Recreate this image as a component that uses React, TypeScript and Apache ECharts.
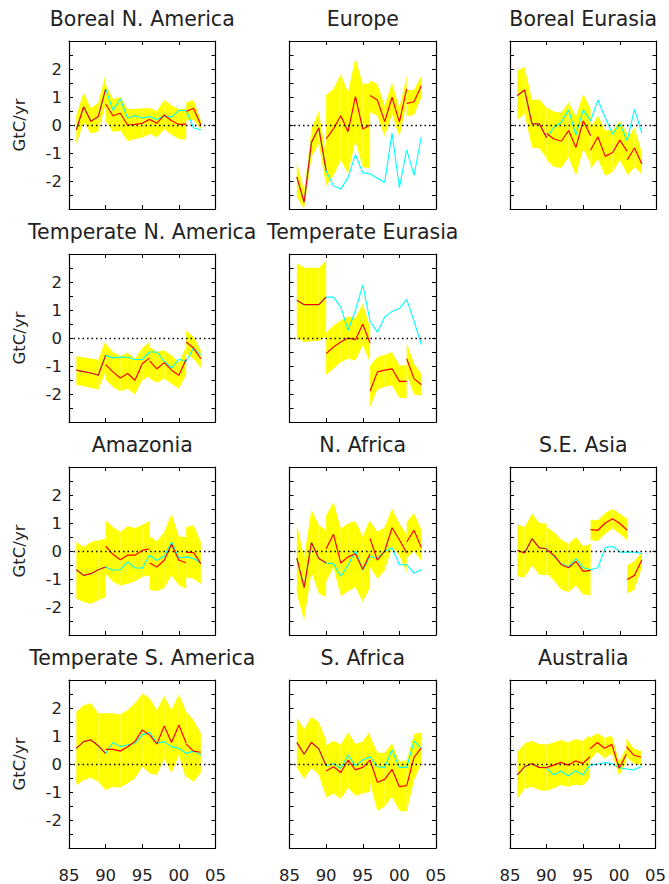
import React, { useEffect, useRef } from "react";
import * as echarts from "echarts";

// ---------- data ----------
const SEG_YEARS: number[][] = [
  [1986, 1987, 1988, 1989, 1990],
  [1990, 1991, 1992, 1993, 1994, 1995, 1996],
  [1996, 1997, 1998, 1999, 2000, 2001],
  [2001, 2002, 2003],
];
const CYAN_YEARS = [1990, 1991, 1992, 1993, 1994, 1995, 1996, 1997, 1998, 1999, 2000, 2001, 2002, 2003];
const X_TICK_LABELS = ["85", "90", "95", "00", "05"];
const Y_TICK_LABELS = [-2, -1, 0, 1, 2];

// Boreal N. America
const bnaRed = [[-0.17, 0.65, 0.13, 0.3, 1.28], [0.75, 0.33, 0.42, 0.0, 0.02, 0.06, 0.2], [0.2, 0.06, 0.36, 0.15, 0.02, 0.03], [0.48, 0.6, 0.0]];
const bnaHi = [[0.35, 1.15, 0.6, 0.8, 1.8], [1.45, 0.93, 1.0, 0.57, 0.57, 0.6, 0.6], [0.6, 0.5, 0.9, 0.7, 0.57, 0.57], [0.8, 0.9, 0.15]];
const bnaLo = [[-0.68, 0.1, -0.3, -0.23, 0.75], [0.15, -0.26, -0.2, -0.58, -0.5, -0.45, -0.33], [-0.3, -0.45, -0.15, -0.35, -0.5, -0.53], [0.15, 0.2, -0.15]];
const bnaCyan = [1.28, 0.53, 0.93, 0.25, 0.33, 0.25, 0.3, 0.2, 0.33, 0.28, 0.52, 0.52, -0.1, -0.17];

// Europe
const euRed = [[-1.85, -2.76, -0.62, -0.1, -1.63], [-0.5, -0.14, 0.33, -0.24, 1.01, -0.14, 0.0], [1.05, 0.89, 0.12, 0.99, 0.1, 1.29], [0.77, 0.83, 1.4]];
const euHi = [[-1.33, -2.35, -0.14, 0.51, -1.1], [1.07, 1.29, 1.82, 1.17, 2.39, 1.46, 1.49], [1.58, 1.46, 0.69, 1.52, 0.61, 1.76], [1.25, 1.25, 1.76]];
const euLo = [[-2.58, -3.0, -1.15, -0.68, -2.17], [-2.17, -1.81, -1.25, -1.73, -0.56, -1.51, -1.54], [0.45, 0.33, -0.42, 0.39, -0.42, 0.8], [0.3, 0.37, 0.99]];
const euCyan = [-1.63, -2.17, -2.29, -1.87, -1.06, -1.7, -1.75, -1.9, -2.05, -0.29, -2.24, -0.89, -1.8, -0.42];

// Boreal Eurasia
const beuRed = [[1.05, 1.25, 0.04, 0.04, -0.45], [-0.3, -0.5, -0.58, -0.2, -0.8, 0.15, -0.38], [-0.89, -0.42, -1.12, -0.98, -0.54, -0.94], [-1.25, -0.82, -1.39]];
const beuHi = [[1.94, 2.08, 0.89, 0.92, 0.6], [0.63, 0.48, 0.43, 0.81, 0.3, 1.11, 0.57], [-0.08, 0.33, -0.2, -0.2, 0.15, -0.3], [-0.5, -0.08, -0.98]];
const beuLo = [[0.18, 0.39, -0.8, -0.83, -1.2], [-1.25, -1.49, -1.54, -1.15, -1.81, -0.86, -1.39], [-1.57, -1.21, -1.81, -1.69, -1.25, -1.75], [-1.81, -1.51, -1.75]];
const beuCyan = [-0.45, -0.08, 0.1, 0.54, -0.36, 0.54, 0.15, 0.89, 0.27, -0.32, 0.04, -0.56, 0.57, -0.3];

// Temperate N. America
const tnaRed = [[-1.15, -1.2, -1.25, -1.33, -0.62], [-0.95, -1.21, -1.43, -1.27, -1.51, -0.92, -0.71], [-0.82, -1.1, -0.88, -1.15, -1.33, -0.76], [-0.14, -0.36, -0.74]];
const tnaHi = [[-0.65, -0.7, -0.73, -0.78, -0.08], [-0.2, -0.5, -0.64, -0.52, -0.74, -0.36, -0.14], [-0.32, -0.5, -0.44, -0.62, -0.86, -0.3], [0.27, 0.04, -0.44]];
const tnaLo = [[-1.68, -1.72, -1.78, -1.85, -1.2], [-1.49, -1.75, -1.9, -1.81, -2.02, -1.51, -1.36], [-1.45, -1.6, -1.45, -1.63, -1.81, -1.3], [-0.56, -0.74, -1.06]];
const tnaCyan = [-0.62, -0.71, -0.68, -0.69, -0.77, -0.77, -0.5, -0.5, -0.83, -1.07, -0.76, -0.83, -0.36, -0.6];

// Temperate Eurasia
const teuRed = [[1.35, 1.19, 1.19, 1.19, 1.46], [-0.56, -0.32, -0.14, 0.0, -0.06, 0.49, -0.18], [-1.9, -1.21, -1.15, -1.1, -1.55, -1.55], [-0.74, -1.45, -1.67]];
const teuHi = [[2.68, 2.51, 2.51, 2.51, 2.75], [0.19, 0.45, 0.63, 0.77, 0.71, 1.23, 0.39], [-0.98, -0.68, -0.6, -0.5, -0.98, -0.98], [-0.17, -0.92, -1.27]];
const teuLo = [[0.0, -0.14, -0.12, -0.1, 0.05], [-1.31, -1.1, -0.86, -0.74, -0.8, -0.26, -0.86], [-2.46, -1.83, -1.75, -1.69, -2.14, -2.14], [-1.31, -2.02, -2.05]];
const teuCyan = [1.46, 1.46, 1.11, 0.27, 0.99, 1.9, 0.6, 0.21, 0.75, 0.95, 1.05, 1.38, 0.6, -0.24];

// Amazonia
const amzRed = [[-0.67, -0.87, -0.81, -0.67, -0.57], [0.17, -0.12, -0.31, -0.15, -0.15, 0.02, 0.08], [-0.43, -0.57, -0.33, 0.24, -0.33, -0.42], [-0.04, -0.06, -0.45]];
const amzHi = [[0.32, 0.14, 0.32, 0.38, 0.44], [1.1, 0.86, 0.68, 0.88, 0.82, 0.94, 1.07], [0.52, 0.35, 0.68, 1.33, 0.52, 0.5], [0.86, 0.92, 0.32]];
const amzLo = [[-1.7, -1.82, -1.88, -1.76, -1.64], [-0.81, -1.1, -1.23, -1.17, -1.08, -0.93, -0.87], [-1.38, -1.43, -1.32, -0.87, -1.23, -1.35], [-0.95, -0.99, -1.17]];
const amzCyan = [-0.57, -0.69, -0.67, -0.39, -0.6, -0.61, -0.15, -0.33, -0.19, 0.32, -0.25, -0.21, -0.27, -0.43];

// N. Africa
const nafRed = [[-0.25, -1.31, 0.3, -0.27, -0.43], [0.08, 0.6, -0.43, -0.21, -0.1, -0.65, -0.1], [0.44, -0.33, 0.0, 0.83, 0.4, -0.07], [0.32, 0.74, 0.12]];
const nafHi = [[0.95, -0.21, 1.49, 0.92, 0.75], [1.27, 1.75, 0.8, 0.98, 1.07, 0.52, 1.15], [1.07, 0.68, 0.86, 1.51, 0.98, 0.6], [1.04, 1.36, 0.76]];
const nafLo = [[-1.52, -2.48, -0.75, -1.52, -1.64], [-1.1, -0.57, -1.62, -1.44, -1.29, -1.82, -1.29], [-0.57, -0.99, -0.69, 0.14, -0.15, -0.75], [-0.27, 0.0, -0.36]];
const nafCyan = [-0.43, -0.45, -0.9, -0.51, 0.02, -0.69, -0.19, -0.27, 0.0, 0.12, -0.49, -0.49, -0.79, -0.67];

// S.E. Asia
const seaRed = [[0.02, -0.07, 0.44, 0.11, 0.08], [0.05, -0.15, -0.49, -0.6, -0.37, -0.73, -0.69], [0.76, 0.74, 1.0, 1.15, 0.98, 0.74], [-1.02, -0.87, -0.31]];
const seaHi = [[0.94, 0.86, 1.33, 1.0, 0.98], [0.86, 0.68, 0.4, 0.26, 0.5, 0.17, 0.26], [1.12, 1.1, 1.36, 1.51, 1.33, 1.15], [-0.51, -0.36, -0.04]];
const seaLo = [[-0.9, -0.95, -0.51, -0.85, -0.87], [-0.79, -1.05, -1.38, -1.46, -1.23, -1.55, -1.58], [0.38, 0.36, 0.62, 0.8, 0.62, 0.38], [-1.52, -1.38, -0.57]];
const seaCyan = [0.08, -0.19, -0.45, -0.57, -0.27, -0.6, -0.67, -0.6, 0.12, 0.17, -0.04, -0.04, -0.04, -0.1];

// Temperate S. America
const tsaRed = [[0.56, 0.8, 0.86, 0.65, 0.38], [0.52, 0.52, 0.46, 0.62, 0.8, 1.21, 1.04], [1.04, 0.71, 1.36, 0.77, 1.39, 0.74], [0.71, 0.46, 0.42]];
const tsaHi = [[1.87, 2.1, 2.17, 1.81, 1.81], [1.81, 1.81, 1.77, 1.93, 2.17, 2.52, 2.35], [2.35, 1.93, 2.44, 1.93, 2.49, 1.87], [1.87, 1.57, 1.1]];
const tsaLo = [[-0.75, -0.57, -0.49, -0.63, -0.93], [-0.93, -0.81, -0.85, -0.69, -0.51, -0.1, -0.33], [-0.33, -0.39, 0.2, -0.33, 0.32, -0.57], [-0.45, -0.63, -0.3]];
const tsaCyan = [0.38, 0.77, 0.62, 0.68, 0.74, 1.04, 1.13, 0.74, 0.8, 0.62, 0.56, 0.38, 0.46, 0.32];

// S. Africa
const safRed = [[0.77, 0.35, 0.77, 0.54, -0.06], [-0.25, -0.1, -0.3, 0.14, -0.21, -0.12, 0.14], [0.14, -0.65, -0.55, -0.19, -0.81, -0.77], [-0.77, 0.24, 0.58]];
const safHi = [[1.65, 1.25, 1.69, 1.49, 0.85], [0.68, 0.82, 0.7, 1.13, 0.71, 0.8, 1.18], [1.0, 0.4, 0.4, 0.74, 0.08, 0.14], [0.14, 1.06, 1.13]];
const safLo = [[-0.13, -0.54, -0.13, -0.39, -1.17], [-1.2, -1.05, -1.25, -0.85, -1.13, -1.05, -0.99], [-0.7, -1.68, -1.52, -1.17, -1.67, -1.7], [-1.7, -0.57, 0.02]];
const safCyan = [-0.06, 0.02, -0.15, 0.32, -0.06, 0.14, 0.26, -0.1, -0.12, 0.5, -0.12, -0.12, 0.82, 0.56];

// Australia
const ausRed = [[-0.39, -0.1, 0.02, -0.12, -0.13], [-0.13, -0.04, 0.06, -0.04, 0.11, 0.02, 0.26], [0.54, 0.77, 0.56, 0.7, -0.15, 0.35], [0.62, 0.32, 0.24]];
const ausHi = [[0.42, 0.74, 0.82, 0.71, 0.7], [0.7, 0.77, 0.86, 0.77, 0.89, 0.82, 1.04], [0.94, 1.1, 0.94, 1.01, 0.08, 0.6], [0.92, 0.56, 0.46]];
const ausLo = [[-1.23, -0.89, -0.81, -0.93, -0.96], [-0.96, -0.87, -0.75, -0.81, -0.73, -0.77, -0.51], [0.14, 0.44, 0.2, 0.38, -0.42, 0.08], [0.26, 0.02, -0.04]];
const ausCyan = [-0.13, -0.39, -0.25, -0.43, -0.24, -0.39, -0.04, -0.01, 0.05, 0.02, -0.13, -0.18, -0.21, -0.1];

const PANELS = [
  { title: "Boreal N. America", row: 0, col: 0, red: bnaRed, hi: bnaHi, lo: bnaLo, cyan: bnaCyan },
  { title: "Europe", row: 0, col: 1, red: euRed, hi: euHi, lo: euLo, cyan: euCyan },
  { title: "Boreal Eurasia", row: 0, col: 2, red: beuRed, hi: beuHi, lo: beuLo, cyan: beuCyan },
  { title: "Temperate N. America", row: 1, col: 0, red: tnaRed, hi: tnaHi, lo: tnaLo, cyan: tnaCyan },
  { title: "Temperate Eurasia", row: 1, col: 1, red: teuRed, hi: teuHi, lo: teuLo, cyan: teuCyan },
  { title: "Amazonia", row: 2, col: 0, red: amzRed, hi: amzHi, lo: amzLo, cyan: amzCyan },
  { title: "N. Africa", row: 2, col: 1, red: nafRed, hi: nafHi, lo: nafLo, cyan: nafCyan },
  { title: "S.E. Asia", row: 2, col: 2, red: seaRed, hi: seaHi, lo: seaLo, cyan: seaCyan },
  { title: "Temperate S. America", row: 3, col: 0, red: tsaRed, hi: tsaHi, lo: tsaLo, cyan: tsaCyan },
  { title: "S. Africa", row: 3, col: 1, red: safRed, hi: safHi, lo: safLo, cyan: safCyan },
  { title: "Australia", row: 3, col: 2, red: ausRed, hi: ausHi, lo: ausLo, cyan: ausCyan },
];

// ---------- layout & style ----------
const COL_LEFT = [69, 289.5, 510];
const ROW_TOP = [41, 254, 467, 680];
const PLOT_W = 146.5;
const PLOT_H = 168;
const FONT = "DejaVu Sans";
const TEXT_COLOR = "#222";

function buildOption() {
  const grids: any[] = [];
  const xAxes: any[] = [];
  const yAxes: any[] = [];
  const series: any[] = [];
  const graphics: any[] = [];

  const axisLine = { show: true, onZero: false, lineStyle: { color: "#000", width: 1.2 } };
  const axisTick = { show: true, inside: true, length: 4, lineStyle: { color: "#000", width: 1 } };

  PANELS.forEach((p, k) => {
    const left = COL_LEFT[p.col];
    const top = ROW_TOP[p.row];
    const bottomRow = p.row === 3;
    const firstCol = p.col === 0;
    grids.push({ left, top, width: PLOT_W, height: PLOT_H, containLabel: false });

    const xBase = {
      gridIndex: k, type: "value", min: 1985, max: 2005, interval: 5,
      axisLine, axisTick, splitLine: { show: false },
    };
    xAxes.push({
      ...xBase, position: "bottom",
      axisLabel: {
        show: bottomRow, margin: 19, fontSize: 16.5, fontFamily: FONT, color: TEXT_COLOR,
        formatter: (v: number) => X_TICK_LABELS[Math.round((v - 1985) / 5)] ?? "",
      },
    });
    xAxes.push({ ...xBase, position: "top", axisLabel: { show: false } });

    const yBase = {
      gridIndex: k, type: "value", min: -3, max: 3, interval: 0.5,
      axisLine, axisTick, splitLine: { show: false },
    };
    yAxes.push({
      ...yBase, position: "left",
      axisLabel: {
        show: firstCol, margin: 7, fontSize: 16.5, fontFamily: FONT, color: TEXT_COLOR,
        formatter: (v: number) => (Y_TICK_LABELS.indexOf(v) >= 0 ? String(v) : ""),
      },
      name: firstCol ? "GtC/yr" : "",
      nameLocation: "middle", nameGap: 41,
      nameTextStyle: { fontSize: 16.5, fontFamily: FONT, color: TEXT_COLOR },
    });
    yAxes.push({ ...yBase, position: "right", axisLabel: { show: false } });

    const xi = 2 * k;
    const yi = 2 * k;

    // uncertainty band: one quad per year interval
    const bandData: number[][] = [];
    SEG_YEARS.forEach((yrs, s) => {
      for (let i = 0; i < yrs.length - 1; i++) {
        bandData.push([yrs[i], p.lo[s][i], p.hi[s][i], yrs[i + 1], p.lo[s][i + 1], p.hi[s][i + 1]]);
      }
    });
    series.push({
      type: "custom", xAxisIndex: xi, yAxisIndex: yi, clip: true, silent: true,
      data: bandData, encode: { x: [0, 3], y: [1, 2, 4, 5] },
      renderItem: (_params: any, api: any) => {
        const a = api.coord([api.value(0), api.value(2)]);
        const b = api.coord([api.value(3), api.value(5)]);
        const c = api.coord([api.value(3), api.value(4)]);
        const d = api.coord([api.value(0), api.value(1)]);
        return { type: "polygon", shape: { points: [a, b, c, d] }, style: { fill: "#ffff00" } };
      },
    });

    // cyan line (continuous, shares first segment with red)
    const cyanData = SEG_YEARS[0].slice(0, 4).map((y, i) => [y, p.red[0][i]])
      .concat(CYAN_YEARS.map((y, i) => [y, p.cyan[i]]));
    series.push({
      type: "line", xAxisIndex: xi, yAxisIndex: yi, data: cyanData, symbol: "none",
      silent: true, lineStyle: { color: "#00ffff", width: 1.1 },
      markLine: {
        silent: true, symbol: "none", label: { show: false },
        lineStyle: { color: "#000", type: [1.5, 3], width: 1.3 },
        data: [{ yAxis: 0 }],
      },
    });

    // red segments
    SEG_YEARS.forEach((yrs, s) => {
      series.push({
        type: "line", xAxisIndex: xi, yAxisIndex: yi, symbol: "none", silent: true,
        data: yrs.map((y, i) => [y, p.red[s][i]]),
        lineStyle: { color: "#ff0000", width: 1.2 },
      });
    });

    graphics.push({
      type: "text", x: left + PLOT_W / 2, y: top - 22, silent: true,
      style: {
        text: p.title, fontSize: 20.5, fontFamily: FONT, fill: TEXT_COLOR,
        align: "center", verticalAlign: "middle",
      },
    });
  });

  return {
    animation: false,
    backgroundColor: "#ffffff",
    grid: grids,
    xAxis: xAxes,
    yAxis: yAxes,
    series,
    graphic: graphics,
  };
}

export default function App() {
  const ref = useRef<HTMLDivElement>(null);
  useEffect(() => {
    if (!ref.current) return;
    const chart = echarts.init(ref.current, null, { renderer: "svg" });
    chart.setOption(buildOption() as any);
    return () => chart.dispose();
  }, []);
  return (
    <div
      ref={ref}
      style={{ position: "absolute", left: 0, top: 0, width: 669, height: 884, background: "#fff" }}
    />
  );
}
